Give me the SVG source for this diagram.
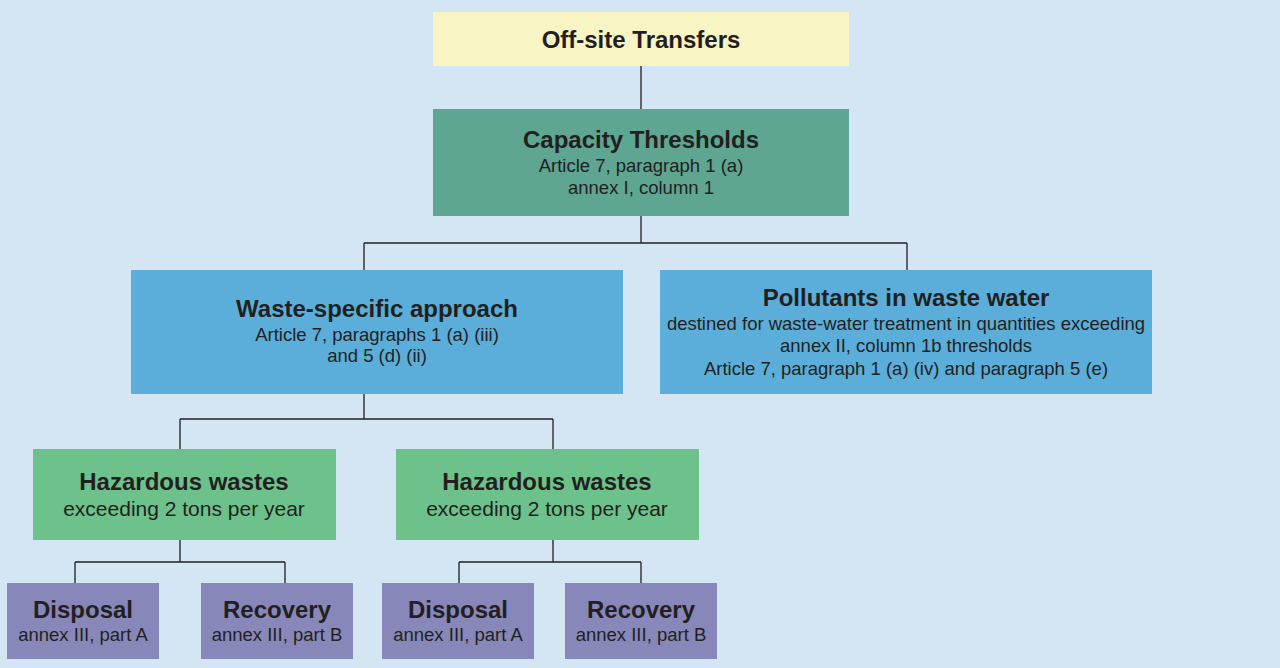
<svg xmlns="http://www.w3.org/2000/svg" width="1280" height="668" viewBox="0 0 1280 668">
<style>
text{font-family:"Liberation Sans",Arial,sans-serif;fill:#231f20;text-anchor:middle}
.t{font-weight:bold;font-size:24px}
.s{font-size:18.5px}
.m{font-size:21px}
.e{stroke:#231f20;stroke-width:1.3;fill:none}
</style>
<rect width="1280" height="668" fill="#d4e6f4"/>
<g id="connectors">
<path class="e" d="M641 66V109M641 216V243M364 243H907M364 243V270M907 243V270M364 394V419M180 419H553M180 419V449M553 419V449M180 540V562M75 562H285M75 562V583M285 562V583M553 540V562M459 562H641M459 562V583M641 562V583"/>
</g>
<g id="offsite">
<rect x="433" y="12" width="416" height="54" fill="#f8f4c4"/>
<text class="t" x="641" y="48">Off-site Transfers</text>
</g>
<g id="capacity">
<rect x="433" y="109" width="416" height="107" fill="#5ea592"/>
<text class="t" x="641" y="148">Capacity Thresholds</text>
<text class="s" x="641" y="172">Article 7, paragraph 1 (a)</text>
<text class="s" x="641" y="194">annex I, column 1</text>
</g>
<g id="waste">
<rect x="131" y="270" width="492" height="124" fill="#5aaed9"/>
<text class="t" x="377" y="317">Waste-specific approach</text>
<text class="s" x="377" y="341">Article 7, paragraphs 1 (a) (iii)</text>
<text class="s" x="377" y="362">and 5 (d) (ii)</text>
</g>
<g id="pollutants">
<rect x="660" y="270" width="492" height="124" fill="#5aaed9"/>
<text class="t" x="906" y="306">Pollutants in waste water</text>
<text class="s" x="906" y="330">destined for waste-water treatment in quantities exceeding</text>
<text class="s" x="906" y="352">annex II, column 1b thresholds</text>
<text class="s" x="906" y="375">Article 7, paragraph 1 (a) (iv) and paragraph 5 (e)</text>
</g>
<g id="hazardous1">
<rect x="33" y="449" width="303" height="91" fill="#6dc28b"/>
<text class="t" x="184" y="490">Hazardous wastes</text>
<text class="m" x="184" y="516">exceeding 2 tons per year</text>
</g>
<g id="hazardous2">
<rect x="396" y="449" width="303" height="91" fill="#6dc28b"/>
<text class="t" x="547" y="490">Hazardous wastes</text>
<text class="m" x="547" y="516">exceeding 2 tons per year</text>
</g>
<g id="disposal1">
<rect x="7" y="583" width="152" height="76" fill="#8787b9"/>
<text class="t" x="83" y="618">Disposal</text>
<text class="s" x="83" y="641">annex III, part A</text>
</g>
<g id="recovery1">
<rect x="201" y="583" width="152" height="76" fill="#8787b9"/>
<text class="t" x="277" y="618">Recovery</text>
<text class="s" x="277" y="641">annex III, part B</text>
</g>
<g id="disposal2">
<rect x="382" y="583" width="152" height="76" fill="#8787b9"/>
<text class="t" x="458" y="618">Disposal</text>
<text class="s" x="458" y="641">annex III, part A</text>
</g>
<g id="recovery2">
<rect x="565" y="583" width="152" height="76" fill="#8787b9"/>
<text class="t" x="641" y="618">Recovery</text>
<text class="s" x="641" y="641">annex III, part B</text>
</g>
</svg>
